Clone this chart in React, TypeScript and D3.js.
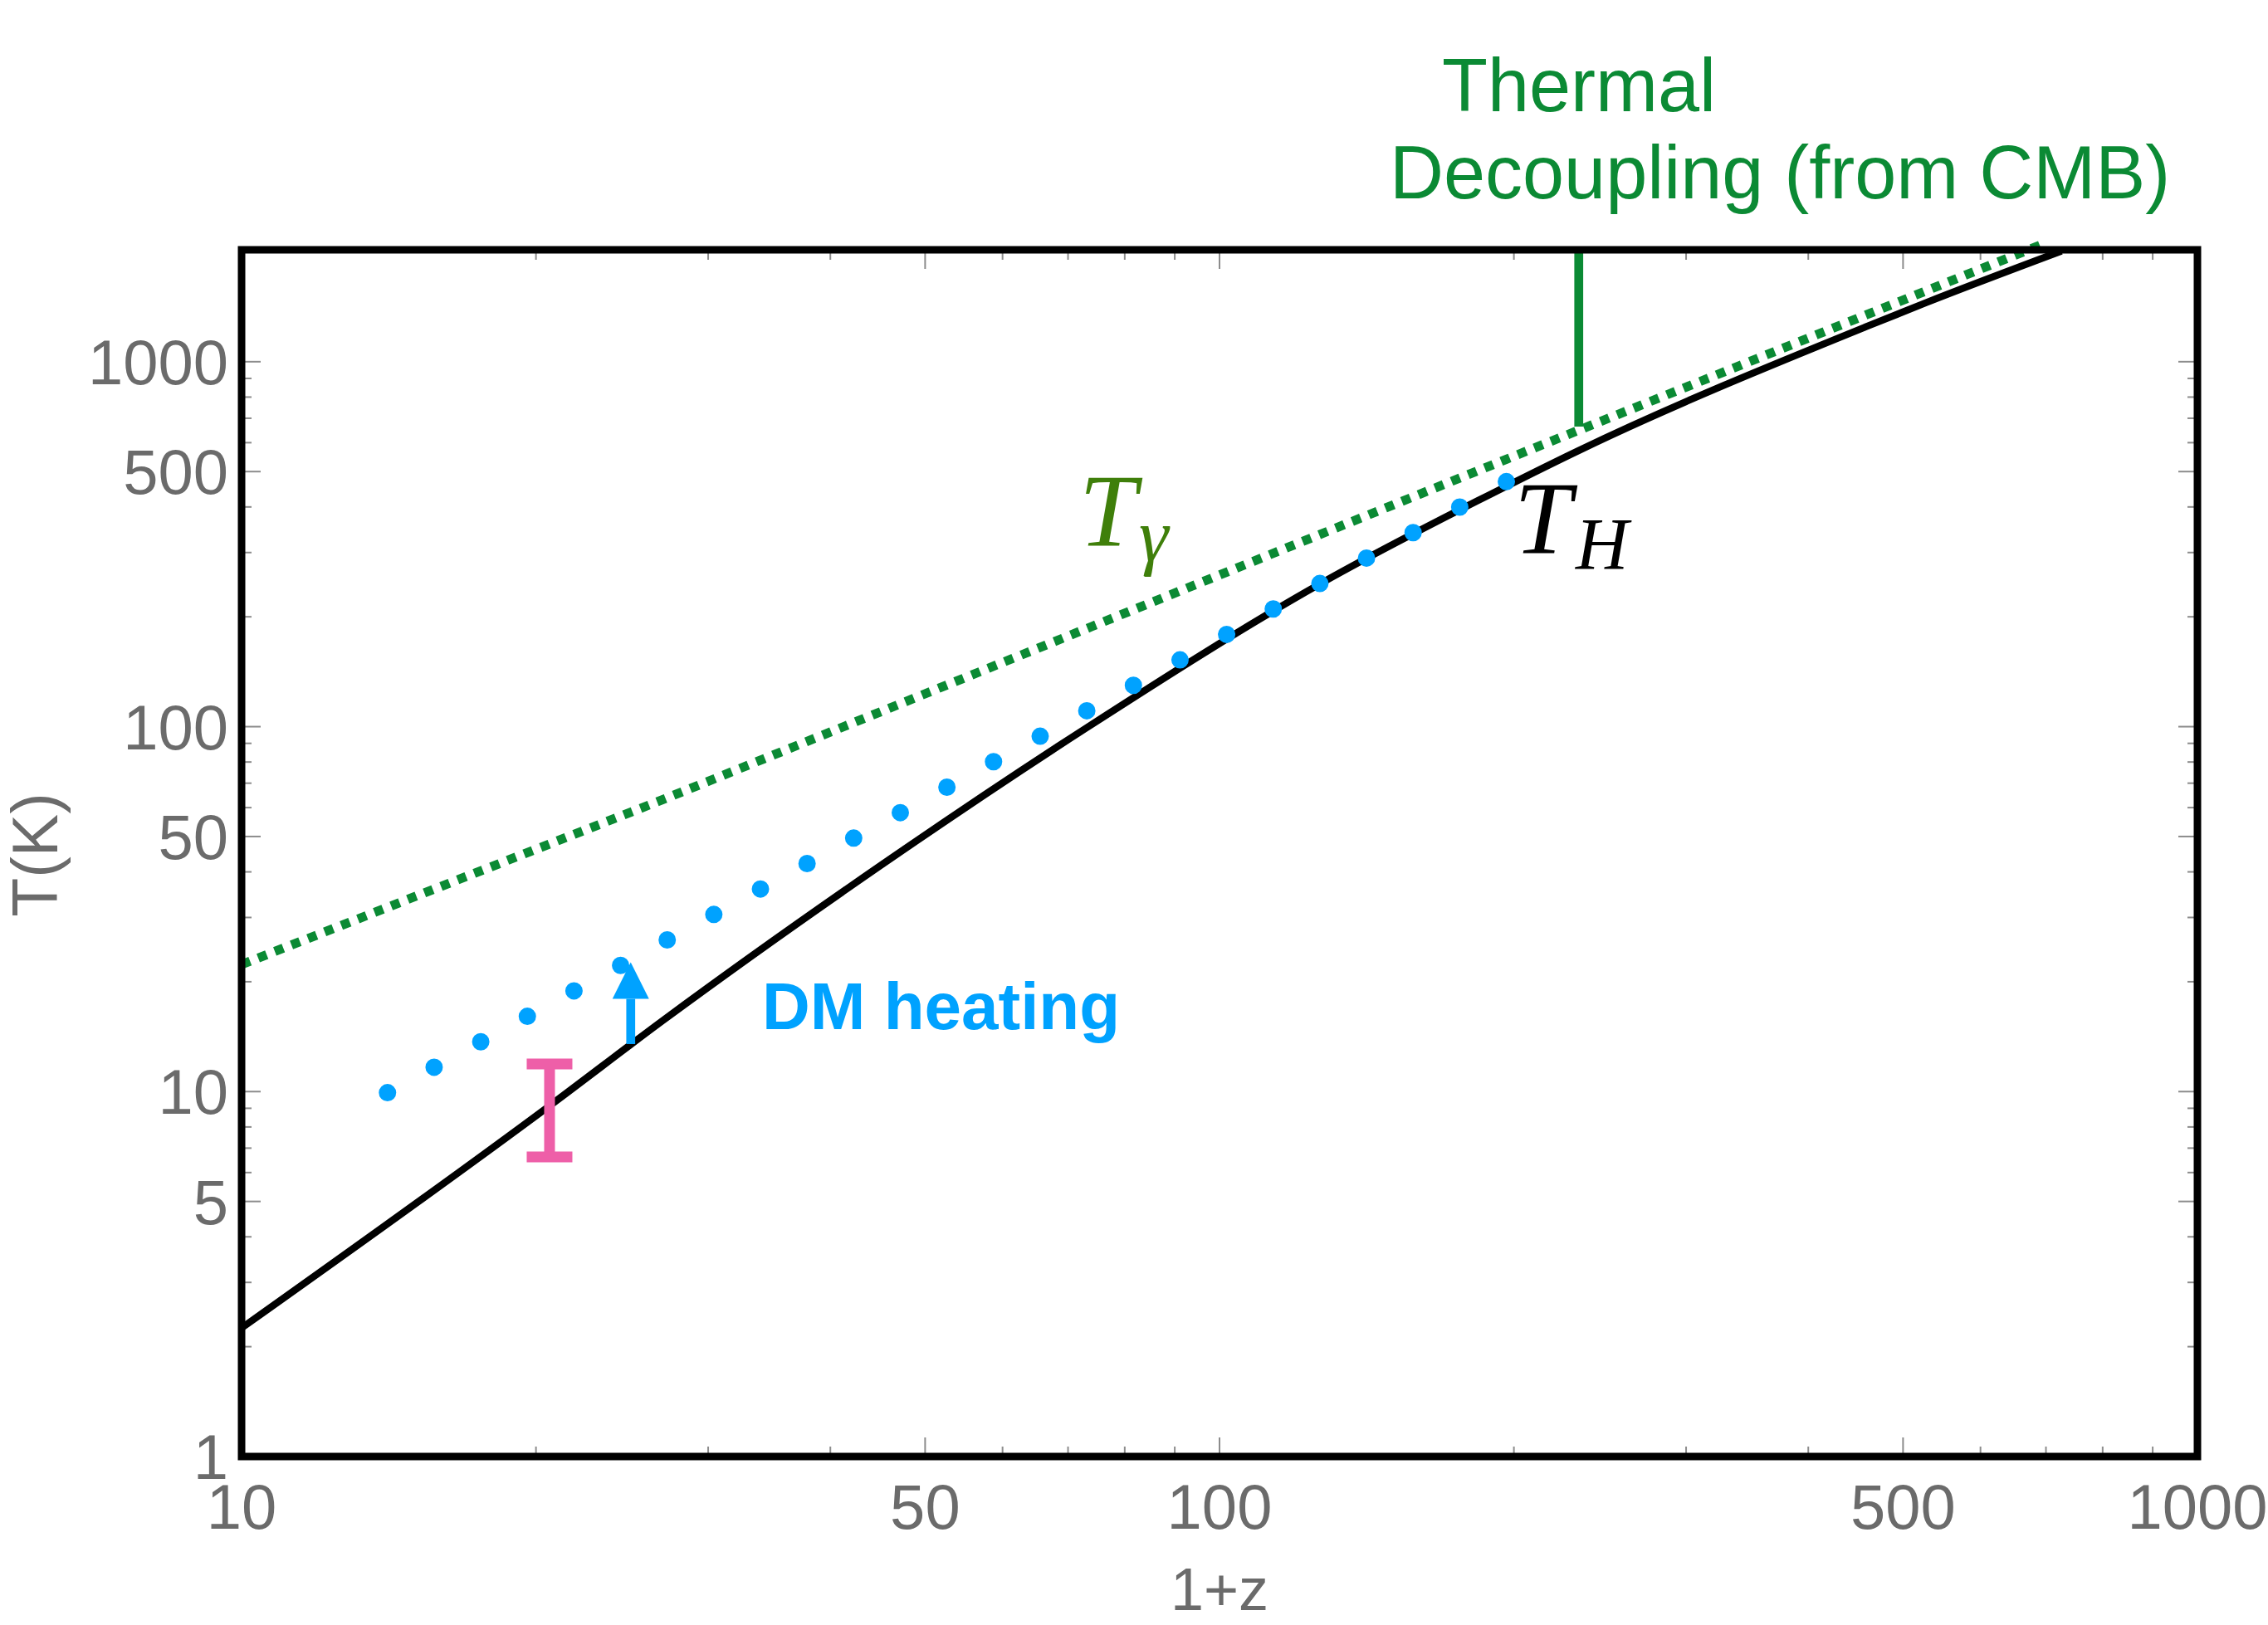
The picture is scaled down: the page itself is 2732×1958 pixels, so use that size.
import React from "react";
import * as d3 from "d3";

// ---- data ----
const xTickLabels = [10, 50, 100, 500, 1000];
const yTickLabels = [1, 5, 10, 50, 100, 500, 1000];

// CMB temperature T_gamma (1+z, K)
const tGammaData: [number, number][] = [
  [10, 22.3], [27, 63.2], [74, 188], [197, 542], [700, 2118],
];
// Hydrogen gas temperature T_H (1+z, K)
const tHData: [number, number][] = [
  [10, 2.25], [20.6, 9.1], [27, 15.7], [45, 41.6], [73, 99], [127, 247],
  [194, 448], [233, 571], [460, 1252], [528, 1452], [726, 2010],
];
// DM-heated gas temperature (dotted blue)
const dmHeatingData: [number, number][] = [
  [14.1, 9.93], [47.2, 58.2], [197, 471],
];
// measurement error bar
const errorBarZ = 20.65;
const errorBarRange: [number, number] = [6.62, 11.9];
// DM heating arrow
const arrowZ = 25;
const arrowRange: [number, number] = [13.5, 22.6];
// thermal decoupling marker
const decouplingZ = 233;
const decouplingLow = 664;

const W = 2732;
const H = 1958;
const X0 = 291, X1 = 2647, Y0 = 1755, Y1 = 301;

const GRAY = "#6b6b6b";
const TICK = "#8c8c8c";
const GREEN = "#0b8a34";
const OLIVE = "#3f7f0a";
const BLUE = "#00a2ff";
const PINK = "#ee5fa8";
const SANS = "'Liberation Sans', Arial, Helvetica, sans-serif";
const SERIF = "'Liberation Serif', 'DejaVu Serif', serif";

export default function App() {
  const x = d3.scaleLog().domain([10, 1000]).range([X0, X1]);
  const y = d3.scaleLog().domain([1, 2026]).range([Y0, Y1]);

  const curved = d3
    .line<[number, number]>()
    .x((d) => x(d[0]))
    .y((d) => y(d[1]))
    .curve(d3.curveMonotoneX);
  const straight = d3
    .line<[number, number]>()
    .x((d) => x(d[0]))
    .y((d) => y(d[1]));

  // dotted blue: 25 dots evenly along the path
  let dmLen = 0;
  for (let i = 1; i < dmHeatingData.length; i++) {
    const a = dmHeatingData[i - 1], b = dmHeatingData[i];
    dmLen += Math.hypot(x(b[0]) - x(a[0]), y(b[1]) - y(a[1]));
  }
  const dotGap = (dmLen / 24) * 0.999;

  const xTicks = x.ticks();
  const yTicks = y.ticks().filter((v) => v <= 1000);
  const MAJ = 23, MIN = 12;

  const ax = x(arrowZ);
  const aBottom = y(arrowRange[0]);
  const aTip = y(arrowRange[1]);
  const headLen = 44, headW = 44;

  const ex = x(errorBarZ);
  const eTop = y(errorBarRange[1]);
  const eBot = y(errorBarRange[0]);

  const dx = x(decouplingZ);

  return (
    <svg
      width={W}
      height={H}
      style={{ position: "absolute", left: 0, top: 0, background: "#fff" }}
    >
      <rect x={0} y={0} width={W} height={H} fill="#fff" />

      {/* ticks */}
      {xTicks.map((v, i) => {
        const major = xTickLabels.includes(v);
        const L = major ? MAJ : MIN;
        return (
          <g key={"xt" + i} stroke={TICK} strokeWidth={2}>
            <line x1={x(v)} x2={x(v)} y1={Y0} y2={Y0 - L} />
            <line x1={x(v)} x2={x(v)} y1={Y1} y2={Y1 + L} />
          </g>
        );
      })}
      {yTicks.map((v, i) => {
        const major = yTickLabels.includes(v);
        const L = major ? MAJ : MIN;
        return (
          <g key={"yt" + i} stroke={TICK} strokeWidth={2}>
            <line x1={X0} x2={X0 + L} y1={y(v)} y2={y(v)} />
            <line x1={X1} x2={X1 - L} y1={y(v)} y2={y(v)} />
          </g>
        );
      })}

      {/* T_gamma dotted */}
      <path
        d={straight(tGammaData) || ""}
        fill="none"
        stroke={GREEN}
        strokeWidth={11}
        strokeDasharray="11 10.5"
      />
      {/* T_H solid */}
      <path d={curved(tHData) || ""} fill="none" stroke="#000" strokeWidth={8.5} />
      {/* DM heating dotted */}
      <path
        d={straight(dmHeatingData) || ""}
        fill="none"
        stroke={BLUE}
        strokeWidth={21}
        strokeLinecap="round"
        strokeDasharray={`0 ${dotGap}`}
      />

      {/* decoupling marker */}
      <line x1={dx} x2={dx} y1={Y1} y2={y(decouplingLow)} stroke={GREEN} strokeWidth={10.7} />

      {/* error bar */}
      <g stroke={PINK} strokeWidth={13}>
        <line x1={ex} x2={ex} y1={eTop} y2={eBot} />
        <line x1={ex - 27.5} x2={ex + 27.5} y1={eTop} y2={eTop} />
        <line x1={ex - 27.5} x2={ex + 27.5} y1={eBot} y2={eBot} />
      </g>

      {/* arrow */}
      <line x1={ax} x2={ax} y1={aBottom} y2={aTip + headLen} stroke={BLUE} strokeWidth={10.7} />
      <path
        d={`M${ax},${aTip} L${ax + headW / 2},${aTip + headLen} L${ax - headW / 2},${aTip + headLen} Z`}
        fill={BLUE}
      />

      {/* frame */}
      <rect
        x={X0}
        y={Y1}
        width={X1 - X0}
        height={Y0 - Y1}
        fill="none"
        stroke="#000"
        strokeWidth={9}
      />

      {/* tick labels */}
      {xTickLabels.map((v) => (
        <text
          key={"xl" + v}
          x={x(v)}
          y={1842}
          textAnchor="middle"
          fontFamily={SANS}
          fontSize={76}
          fill={GRAY}
        >
          {v}
        </text>
      ))}
      {yTickLabels.map((v) => (
        <text
          key={"yl" + v}
          x={275}
          y={y(v) + 27}
          textAnchor="end"
          fontFamily={SANS}
          fontSize={76}
          fill={GRAY}
        >
          {v}
        </text>
      ))}

      {/* axis titles */}
      <text
        x={(X0 + X1) / 2}
        y={1940}
        textAnchor="middle"
        fontFamily={SANS}
        fontSize={72}
        fill={GRAY}
      >
        1+z
      </text>
      <text
        transform="translate(69,1030) rotate(-90)"
        textAnchor="middle"
        fontFamily={SANS}
        fontSize={77}
        fill={GRAY}
      >
        T(K)
      </text>

      {/* annotations */}
      <text x={1902} y={134} textAnchor="middle" fontFamily={SANS} fontSize={90} fill={GREEN}>
        Thermal
      </text>
      <text x={1674} y={239} fontFamily={SANS} fontSize={90} fill={GREEN}>
        Decoupling (from CMB)
      </text>

      <text x={1300} y={658} fontFamily={SERIF} fontStyle="italic" fontSize={124} fill={OLIVE}>
        T
      </text>
      <text x={1372} y={676} fontFamily={SERIF} fontStyle="italic" fontSize={90} fill={OLIVE}>
        γ
      </text>

      <text x={1824} y={667} fontFamily={SERIF} fontStyle="italic" fontSize={124} fill="#000">
        T
      </text>
      <text x={1898} y={685} fontFamily={SERIF} fontStyle="italic" fontSize={88} fill="#000">
        H
      </text>

      <text x={918} y={1240} fontFamily={SANS} fontWeight="bold" fontSize={80} fill={BLUE}>
        DM heating
      </text>
    </svg>
  );
}
